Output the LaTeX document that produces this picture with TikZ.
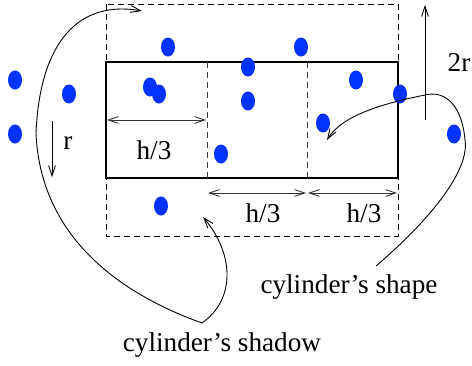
\documentclass[tikz,border=0pt]{standalone}
\usepackage{fontspec}
\setmainfont{Liberation Serif}
\usetikzlibrary{arrows.meta}
\definecolor{dotblue}{HTML}{0033FF}
\tikzset{
  outline/.style={line width=0.55pt,draw=black},
  shadowline/.style={line width=0.5pt,draw=black,dash pattern=on 3pt off 2pt},
  divider/.style={line width=0.5pt,draw=black!75,dash pattern=on 3pt off 2pt},
  dimarrow/.style={{Straight Barb[length=5pt,width=3.4pt]}-{Straight Barb[length=5pt,width=3.4pt]},line width=0.45pt,draw=black!80},
  pointer/.style={-{Straight Barb[length=5pt,width=3.4pt]},line width=0.45pt},
  lbl/.style={inner sep=0pt,font=\fontsize{13.6}{16}\selectfont}
}

\begin{document}
\begin{tikzpicture}[x=0.5pt,y=-0.5pt]
\useasboundingbox (0,0) rectangle (472,365);
% shadow and cylinder
\draw[shadowline] (106,4) rectangle (398,236);
\draw[outline] (106,62) rectangle (398,178);
\draw[divider] (207,62) -- (207,178);
\draw[divider] (307,62) -- (307,178);
% particles
\foreach \px/\py in {15/80,15/134,69/94,168/47,150/87,159/94,221/154,248/67,248/101,
                     301/47,356/80,323/123,400/94,454/134,161/206}
  \fill[dotblue] (\px,\py) ellipse [x radius=7,y radius=9.5];
% named points
\coordinate (rtop) at (52,121);
\coordinate (rbot) at (52,177);
\coordinate (dtop) at (425,120);
\coordinate (dtip) at (425,5);
\coordinate (hA) at (107,120);
\coordinate (hB) at (206,120);
\coordinate (hC) at (208,193);
\coordinate (hD) at (306,193);
\coordinate (hE) at (308,193);
\coordinate (hF) at (397,193);
\coordinate (shadowfoot) at (202,323);
\coordinate (shadowtop) at (142,11);
\coordinate (shadowin) at (203,217);
\coordinate (shapefoot) at (376,266);
\coordinate (shapein) at (327,140);
% labels
\node[lbl] (rlbl) at (68,143) {r};
\node[lbl] (dlbl) at (459,62) {2r};
\node[lbl] (hone) at (154,150) {h/3};
\node[lbl] (htwo) at (263,213) {h/3};
\node[lbl] (hthree) at (364,213) {h/3};
\node[lbl] (shapelbl) at (349,287) {cylinder's shape};
\node[lbl] (shadowlbl) at (222,345) {cylinder's shadow};
% dimensions
\draw[pointer] (rtop) -- (rbot);
\draw[pointer] (dtop) -- (dtip);
\draw[dimarrow] (hA) -- (hB);
\draw[dimarrow] (hC) -- (hD);
\draw[dimarrow] (hE) -- (hF);
% pointers from the captions
\draw[pointer] (shadowfoot) .. controls (110,290) and (40,230) .. (36,133)
  .. controls (40,40) and (80,0) .. (shadowtop);
\draw[pointer] (shadowfoot) .. controls (235,300) and (235,255) .. (shadowin);
\draw[pointer] (shapefoot) .. controls (430,220) and (470,170) .. (465,140)
  .. controls (462,105) and (445,90) .. (425,95)
  .. controls (385,103) and (342,115) .. (shapein);
\end{tikzpicture}
\end{document}
